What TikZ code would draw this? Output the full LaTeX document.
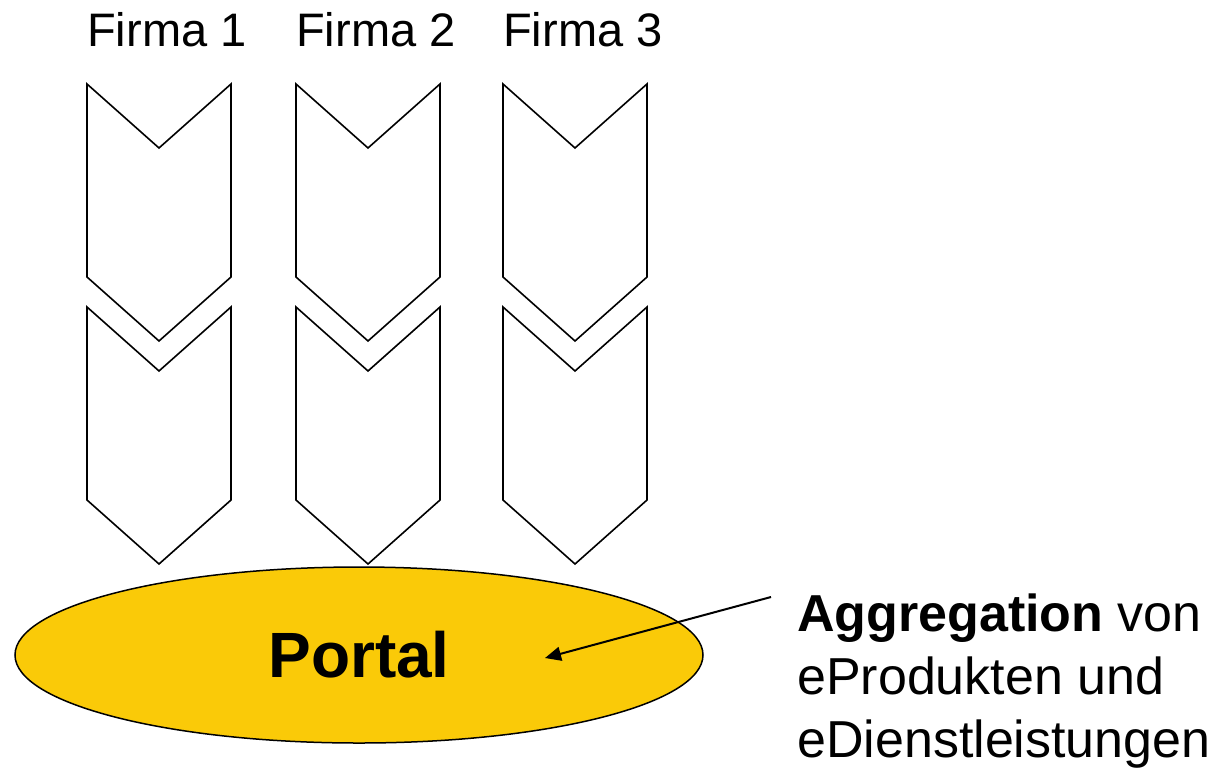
\documentclass[tikz,border=0pt]{standalone}
\usepackage{fontspec}
\setmainfont{Liberation Sans}
\usetikzlibrary{shapes.geometric,arrows.meta}
\definecolor{portalyellow}{RGB}{250,202,8}
\tikzset{
  chev/.style={draw=black, line width=1.6pt, fill=white, line join=miter},
  firma/.style={inner sep=0pt, font=\fontsize{47}{55}\selectfont},
  portalnode/.style={ellipse, draw=black, line width=1.5pt, fill=portalyellow,
    minimum width=688pt, minimum height=176pt, inner sep=0pt,
    font=\fontsize{64}{76}\selectfont\bfseries},
  note/.style={inner sep=0pt, align=left, font=\fontsize{52}{63}\selectfont},
  pointer/.style={draw=black, line width=2pt, -{Triangle[length=16pt,width=14pt]}}
}
\begin{document}
\begin{tikzpicture}[x=1pt, y=-1pt]
  \useasboundingbox (0,0) rectangle (1220,769);

  % three firms, each with two stacked process chevrons
  \foreach \x/\n in {87/1, 296/2, 503/3}{
    \node[firma, anchor=base west] (firma\n) at (\x,46) {Firma \n};
    \foreach \y in {84, 307}{
      \draw[chev] (\x,\y) -- (\x+72,\y+64) -- (\x+144,\y) -- (\x+144,\y+193)
        -- (\x+72,\y+257) -- (\x,\y+193) -- cycle;
    }
  }

  % the portal
  \node[portalnode] (portal) at (359,655) {Portal};

  % explanatory note with pointer into the portal
  \node[note, anchor=north west] (note) at (797,594)
    {\textbf{Aggregation} von\\eProdukten und\\eDienstleistungen};
  \coordinate (from) at (771,597);
  \coordinate (tip) at (545,658);
  \draw[pointer] (from) -- (tip);
\end{tikzpicture}
\end{document}
